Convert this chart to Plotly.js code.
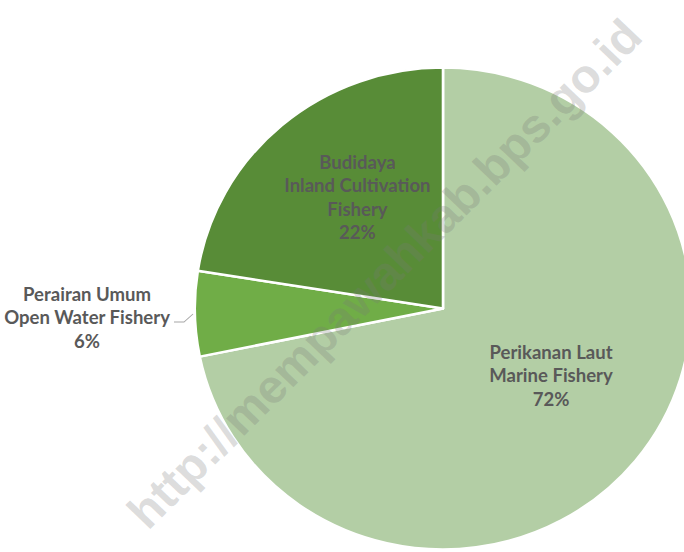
<!DOCTYPE html>
<html>
<head>
<meta charset="utf-8">
<script src="https://cdn.plot.ly/plotly-3.0.1.min.js"></script>
<style>
html,body{margin:0;padding:0;overflow:hidden;background:#fff;width:684px;height:552px;}
#chart{transform:scaleX(1.03);transform-origin:0 0;}
</style>
</head>
<body>
<div id="chart" style="width:675px;height:552px;"></div>
<script>
const labelsId = ["Perikanan Laut", "Perairan Umum", "Budidaya"];
const labelsEn = ["Marine Fishery", "Open Water Fishery", "Inland Cultivation<br>Fishery"];
const values = [71.8, 5.7, 22.5];
const pctLabels = ["72%", "6%", "22%"];
const colors = ["#b3cea5", "#70ad47", "#588c37"];

const SX = 1.03;
const W = 675, H = 552;
const cx = 443, cy = 308.5, r = 241;
function px(x){return (x / SX) / W;}
function py(y){return 1 - y / H;}

const labelText = values.map((v,i) => labelsId[i] + "<br>" + labelsEn[i] + "<br>" + pctLabels[i]);

const labelPos = [[551, 375], [88, 317], [357, 197]];
const annFont = {family: "Lato, 'Open Sans', sans-serif", size: 18, color: "#595959", weight: "bold"};

const annotations = labelText.map((t, i) => ({
  text: "<b>" + t + "</b>",
  x: px(labelPos[i][0]), y: py(labelPos[i][1]),
  xref: "paper", yref: "paper", showarrow: false,
  xanchor: "center", yanchor: "middle",
  font: annFont, align: "center"
}));

annotations.push({
  text: "<b>http://mempawahkab.bps.go.id</b>",
  x: px(384), y: py(273), xref: "paper", yref: "paper",
  showarrow: false, textangle: -45.6,
  font: {family: "Arial, 'Liberation Sans', sans-serif", size: 47, color: "rgba(120,120,120,0.26)"}
});

const cxp = cx / SX;
const data = [{
  type: "pie",
  labels: labelsEn,
  values: values,
  sort: false,
  direction: "clockwise",
  rotation: 0,
  textinfo: "none",
  hoverinfo: "none",
  marker: {colors: colors, line: {color: "#ffffff", width: 2.5}},
  domain: {x: [(cxp - r) / W, Math.min(1, (cxp + r) / W)], y: [py(cy + r), py(cy - r)]},
  showlegend: false
}];

const layout = {
  width: W, height: H,
  margin: {l: 0, r: 0, t: 0, b: 0},
  paper_bgcolor: "#ffffff",
  annotations: annotations,
  shapes: [{
    type: "path", xref: "paper", yref: "paper",
    path: `M ${px(174)} ${py(322)} L ${px(184)} ${py(322)} L ${px(193)} ${py(314)}`,
    line: {color: "#a6a6a6", width: 1}
  }]
};

Plotly.newPlot("chart", data, layout, {staticPlot: true});
</script>
</body>
</html>
